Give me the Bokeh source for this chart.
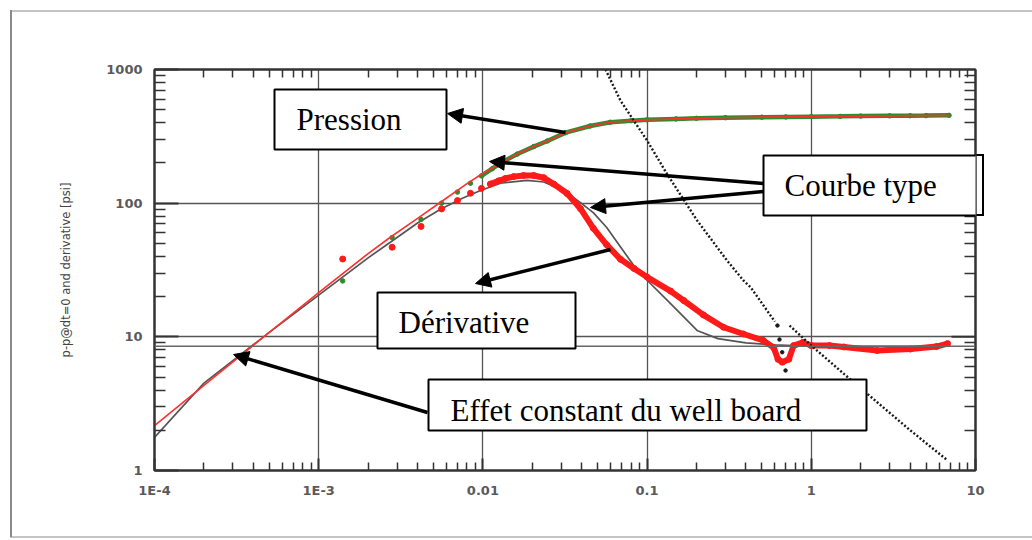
import math
from bokeh.plotting import figure
from bokeh.models import (LogAxis, FixedTicker, CustomJSTickFormatter, Span, Label, Arrow,
                          NormalHead, BoxAnnotation)
from bokeh.embed import file_html
from bokeh.resources import INLINE

# ---------------- data ----------------
# measured pressure change (green points)
p_dt = [0.0014, 0.0028, 0.0042, 0.0056, 0.0070, 0.0084, 0.0098, 0.0114, 0.0134, 0.0162,
        0.0204, 0.0247, 0.0319, 0.045, 0.0596, 0.08, 0.1, 0.15, 0.2, 0.3, 0.5,
        0.7, 1.0, 1.5, 2.0, 3.0, 4.0, 5.0, 6.9]
p_val = [26.2, 55.3, 75.5, 100, 121, 141, 160, 181, 206, 233,
         265, 292, 337, 378, 403, 414, 420, 427, 431, 436, 440,
         442, 444, 446, 448, 450, 451, 452, 454]
p_dense_from = 0.0098

# measured derivative (red points)
d_dt = [0.0014, 0.0028, 0.0042, 0.0056, 0.0070, 0.0084, 0.0098, 0.0111, 0.0125, 0.0137,
        0.0154, 0.0177, 0.0204, 0.0235, 0.027, 0.0326, 0.0393, 0.047, 0.0566, 0.0689,
        0.0832, 0.1, 0.139, 0.167, 0.22, 0.292, 0.386, 0.51, 0.59, 0.627, 0.665,
        0.73, 0.78, 0.89, 1.0, 1.29, 1.58, 2.52, 4.02, 5.78, 6.76]
d_val = [38.2, 46.8, 67.0, 90.6, 104.6, 118.6, 129, 139, 147, 153,
         158, 161, 161, 155, 139, 118, 91, 65, 49, 38,
         32.5, 28, 22, 18.7, 14.6, 11.8, 10.5, 9.4, 8.3, 6.8, 6.46,
         6.8, 8.6, 9.1, 8.6, 8.6, 8.4, 7.9, 8.1, 8.45, 8.9]
d_dense_from = 0.0111

# type curve: pressure (red line)
tp_dt = [1e-4, 2e-4, 5e-4, 1e-3, 2e-3, 2.73e-3, 4e-3, 5.52e-3, 8e-3, 9.9e-3, 0.0134, 0.0162,
         0.0204, 0.0247, 0.0319, 0.045, 0.0596, 0.08, 0.1, 0.15, 0.2, 0.3, 0.5, 1.0, 2.0,
         3.0, 6.9]
tp_val = [2.17, 4.34, 10.8, 21.4, 42, 55.6, 77, 101.6, 140, 166, 205, 233,
          265, 292, 337, 378, 403, 414, 420, 427, 431, 436, 440, 444, 448, 450, 454]

# type curve: derivative (grey line)
td_dt = [1e-4, 2e-4, 5e-4, 1e-3, 2e-3, 2.73e-3, 4e-3, 5.52e-3, 7.5e-3, 9.6e-3, 0.0128, 0.0186,
         0.0235, 0.0312, 0.0393, 0.047, 0.0566, 0.0689, 0.0832, 0.1, 0.139, 0.203, 0.27,
         0.4, 0.6, 1.0, 7.0]
td_val = [1.77, 4.5, 10.8, 20.5, 39, 51, 71, 90, 109, 124, 141, 148,
          144, 124, 101, 85, 66, 47, 34, 26.5, 17.7, 11.1, 9.7,
          9.0, 8.7, 8.5, 8.5]

# black dotted series
b1_dt = [0.0558, 0.0689, 0.1, 0.132, 0.202, 0.307, 0.386, 0.427, 0.60]
b1_val = [1000, 585, 294, 166, 74, 37.2, 26.4, 23.5, 13.0]
bdip_dt = [0.622, 0.640, 0.665, 0.697]
bdip_val = [12.15, 9.55, 7.67, 5.6]
b2_dt = [0.737, 1.0, 1.58, 2.52, 4.02, 6.76]
b2_val = [12.15, 8.6, 5.28, 3.24, 1.99, 1.19]

iarf_level = 8.5

x_tick_vals = [1e-4, 1e-3, 0.01, 0.1, 1, 10]
x_tick_labels = ["1E-4", "1E-3", "0.01", "0.1", "1", "10"]
y_tick_vals = [1, 10, 100, 1000]
y_tick_labels = ["1", "10", "100", "1000"]

x_label = "dt [hr]"
y_label = "p-p@dt=0 and derivative [psi]"

# ---------------- layout ----------------
W, H = 1032, 540
FL, FR, FT, FB = 154, 975, 69, 470
X0, X1 = 1e-4, 10.0
Y0, Y1 = 1.0, 1000.0


def dx(px):
    return 10 ** (math.log10(X0) + (px - FL) / (FR - FL) * (math.log10(X1) - math.log10(X0)))


def dy(py):
    return 10 ** (math.log10(Y0) + (FB - py) / (FB - FT) * (math.log10(Y1) - math.log10(Y0)))


p = figure(width=W, height=H, x_axis_type="log", y_axis_type="log",
           x_range=(X0, X1), y_range=(Y0, Y1), output_backend="svg",
           toolbar_location=None, min_border_left=FL, min_border_right=W - FR,
           min_border_top=FT, min_border_bottom=H - FB,
           background_fill_color="white", border_fill_color="white")
p.border_fill_alpha = 0
p.outline_line_color = "#333333"
p.outline_line_width = 2

# picture border and the part of the "Courbe type" box that leaves the frame,
# painted behind the (transparent) border area of the canvas
boxes = [  # (left, top, right, bottom) in pixels
    (274, 89, 446, 149),
    (763, 155, 983, 215),
    (377, 292, 575, 348),
    (428, 379, 866, 430),
]
cb = boxes[1]
bg_layers = [  # (colour, left, top, width, height)
    ("#8a8a8a", 10, 10, 2, 527),
    ("#c4c4c4", 10, 10, W - 10, 2),
    ("#c4c4c4", 10, 536, W - 10, 2),
    ("#000000", FR, cb[1] - 1, cb[2] - FR + 1, 2),
    ("#000000", FR, cb[3] - 1, cb[2] - FR + 1, 2),
    ("#000000", cb[2] - 1, cb[1] - 1, 2, cb[3] - cb[1] + 2),
]
p.styles = {
    "background-color": "white",
    "background-image": ", ".join(f"linear-gradient({c}, {c})" for c, *_ in bg_layers),
    "background-position": ", ".join(f"{l}px {t}px" for _, l, t, w, h in bg_layers),
    "background-size": ", ".join(f"{w}px {h}px" for _, l, t, w, h in bg_layers),
    "background-repeat": "no-repeat",
}

x_minor = [m * 10 ** e for e in range(-4, 1) for m in range(2, 10)]
y_minor = [m * 10 ** e for e in range(0, 3) for m in range(2, 10)]
xt = FixedTicker(ticks=x_tick_vals, minor_ticks=x_minor)
yt = FixedTicker(ticks=y_tick_vals, minor_ticks=y_minor)

fmt_code = """
const lt = Math.log10(tick);
for (let i = 0; i < vals.length; i++) {
  if (Math.abs(lt - Math.log10(vals[i])) < 1e-6) return labs[i];
}
return "";
"""
xf = CustomJSTickFormatter(args=dict(vals=x_tick_vals, labs=x_tick_labels), code=fmt_code)
yf = CustomJSTickFormatter(args=dict(vals=y_tick_vals, labs=y_tick_labels), code=fmt_code)


def style_axis(ax, minor_len, major_len):
    ax.axis_line_color = "#333333"
    ax.axis_line_width = 2
    ax.major_tick_in = major_len
    ax.major_tick_out = 0
    ax.minor_tick_in = minor_len
    ax.minor_tick_out = 0
    ax.major_tick_line_color = "#333333"
    ax.major_tick_line_width = 2
    ax.minor_tick_line_color = "#333333"
    ax.minor_tick_line_width = 1.5
    ax.major_label_text_font = "DejaVu Sans"
    ax.major_label_text_font_style = "bold"
    ax.major_label_text_font_size = "13px"
    ax.major_label_text_color = "#5a5a5a"
    ax.major_label_standoff = 12


xa = p.xaxis[0]
xa.ticker = xt
xa.formatter = xf
style_axis(xa, 8, 12)

ya = p.yaxis[0]
ya.ticker = yt
ya.formatter = yf
style_axis(ya, 11, 24)
ya.axis_label = y_label
ya.axis_label_text_font = "DejaVu Sans"
ya.axis_label_text_font_style = "normal"
ya.axis_label_text_font_size = "11.5px"
ya.axis_label_text_color = "#444444"
ya.axis_label_standoff = 30

# top and right axes: ticks only (no major ticks -> no labels)
top = LogAxis(ticker=FixedTicker(ticks=[], minor_ticks=x_minor))
style_axis(top, 8, 12)
p.add_layout(top, "above")
right = LogAxis(ticker=FixedTicker(ticks=[], minor_ticks=y_minor))
style_axis(right, 11, 24)
p.add_layout(right, "right")

for g in (p.xgrid[0], p.ygrid[0]):
    g.grid_line_color = "#555555"
    g.grid_line_width = 1.3
p.xgrid[0].ticker = xt
p.ygrid[0].ticker = yt

p.add_layout(Span(location=iarf_level, dimension="width", line_color="#666666", line_width=1.3))

# ---------------- series ----------------
p.line(td_dt, td_val, line_color="#555555", line_width=1.7)

pd_dt = [t for t in p_dt if t >= p_dense_from]
pd_val = [v for t, v in zip(p_dt, p_val) if t >= p_dense_from]
p.line(pd_dt, pd_val, line_color="#2e8b2e", line_width=4.5)
p.scatter(p_dt, p_val, size=4.5, color="#2e8b2e")

p.line(tp_dt, tp_val, line_color="#ff3030", line_width=1.6)

dd_dt = [t for t in d_dt if t >= d_dense_from]
dd_val = [v for t, v in zip(d_dt, d_val) if t >= d_dense_from]
p.line(dd_dt, dd_val, line_color="#ff1a1a", line_width=6)
p.scatter(d_dt, d_val, size=6, color="#ff1a1a")

p.line(b1_dt, b1_val, line_color="#1a1a1a", line_width=2.4, line_dash="2 2")
p.line(b2_dt, b2_val, line_color="#1a1a1a", line_width=2.4, line_dash="2 2")
p.scatter(bdip_dt, bdip_val, size=3.5, color="#1a1a1a")

# major ticks of the right-hand axis (drawn inside the frame)
for v in y_tick_vals[1:-1]:
    p.add_layout(Arrow(x_start=dx(FR - 24), y_start=v, x_end=dx(FR), y_end=v, end=None,
                       line_color="#333333", line_width=2))

# ---------------- annotations ----------------
texts = [  # (x, baseline y, text)
    (296, 119, "Pression"),
    (784, 185, "Courbe type"),
    (398, 322, "Dérivative"),
    (450, 410, "Effet constant du well board"),
]
arrows = [  # tail -> head in pixels
    ((565, 132), (447, 113)),
    ((763, 183), (489, 161)),
    ((763, 191), (590, 207)),
    ((610, 249), (475, 283)),
    ((427, 412), (233, 354)),
]

for (l, t, r, b) in boxes:
    p.add_layout(BoxAnnotation(left=dx(l), right=dx(r), top=dy(t), bottom=dy(b),
                               fill_color="white", fill_alpha=1.0,
                               line_color="black", line_width=2, line_alpha=1.0))
for (x, y, s) in texts:
    p.add_layout(Label(x=dx(x), y=dy(y), text=s, text_font="Liberation Serif",
                       text_font_size="31px", text_color="black",
                       text_baseline="alphabetic", text_align="left"))
for (s, e) in arrows:
    p.add_layout(Arrow(x_start=dx(s[0]), y_start=dy(s[1]), x_end=dx(e[0]), y_end=dy(e[1]),
                       line_color="black", line_width=3.5,
                       end=NormalHead(size=15, fill_color="black", line_color="black",
                                      line_width=1)))

# x axis title (placed like the reference, left of the frame centre)
p.add_layout(Label(x=dx(525), y=dy(513), text=x_label, text_font="DejaVu Sans",
                   text_font_style="bold", text_font_size="12px", text_color="#555555",
                   text_align="center", text_baseline="middle"))

open("out.html", "w").write(file_html(p, INLINE))
